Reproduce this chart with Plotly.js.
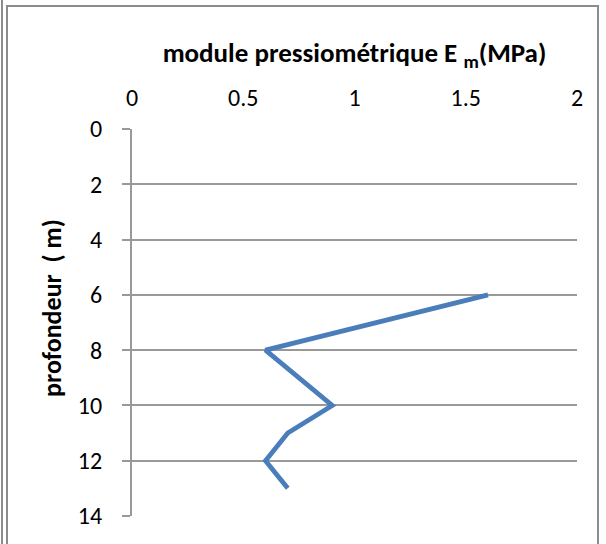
<!DOCTYPE html>
<html><head><meta charset="utf-8">
<script src="https://cdn.plot.ly/plotly-3.0.1.min.js"></script>
<style>
html,body{margin:0;padding:0;background:#fff;}
#wrap{position:relative;width:606px;height:544px;overflow:hidden;}
#chart{position:absolute;left:0;top:0;width:606px;height:544px;}
.fr{position:absolute;background:#8c8c8c;}
</style></head><body>
<div id="wrap">
<div id="chart"></div>
<div class="fr" style="left:1px;top:0;width:2px;height:544px;"></div>
<div class="fr" style="left:6px;top:5px;width:2px;height:539px;"></div>
<div class="fr" style="left:6px;top:5px;width:593px;height:2px;"></div>
<div class="fr" style="left:597px;top:5px;width:2px;height:539px;"></div>
</div>
<script>
const modulus = [1.6, 0.6, 0.9, 0.7, 0.6, 0.7];
const depth = [6, 8, 10, 11, 12, 13];
const xTicks = [0, 0.5, 1, 1.5, 2];
const yTicks = [0, 2, 4, 6, 8, 10, 12, 14];
const fontFam = 'Carlito, Calibri, Lato, sans-serif';
Plotly.newPlot('chart', [{
  x: modulus, y: depth, type: 'scatter', mode: 'lines',
  line: {color: '#4a7ebb', width: 4.8, shape: 'linear'},
  hoverinfo: 'none'
}], {
  width: 606, height: 544,
  margin: {l: 132, r: 29, t: 129, b: 28},
  paper_bgcolor: 'rgba(0,0,0,0)', plot_bgcolor: '#fff',
  showlegend: false,
  font: {family: fontFam, size: 24, color: '#000'},
  xaxis: {
    side: 'top', range: [0, 2], tickvals: xTicks, ticktext: xTicks.map(String),
    showgrid: false, zeroline: false, showline: false, ticks: '',
    tickfont: {size: 24}, ticklabelstandoff: 17,
    title: {text: '<b>module pressiométrique E <sub>m</sub>(MPa)</b>', font: {size: 27}, standoff: 12}
  },
  yaxis: {
    range: [14, 0], tickvals: yTicks, ticktext: yTicks.map(String),
    showgrid: true, gridcolor: '#999999', gridwidth: 2,
    zeroline: false, showline: true, linecolor: '#999999', linewidth: 2,
    ticks: 'outside', ticklen: 8, tickcolor: '#999999', tickwidth: 2,
    tickfont: {size: 24}, ticklabelstandoff: 15
  },
  annotations: [{
    text: '<b>profondeur&nbsp; ( m)</b>', textangle: -90, showarrow: false,
    xref: 'paper', yref: 'paper', x: (52 - 132) / 445, y: (516 - 308) / 387,
    xanchor: 'center', yanchor: 'middle', font: {size: 26, family: fontFam, color: '#000'}
  }]
}, {staticPlot: true});
</script>
</body></html>
